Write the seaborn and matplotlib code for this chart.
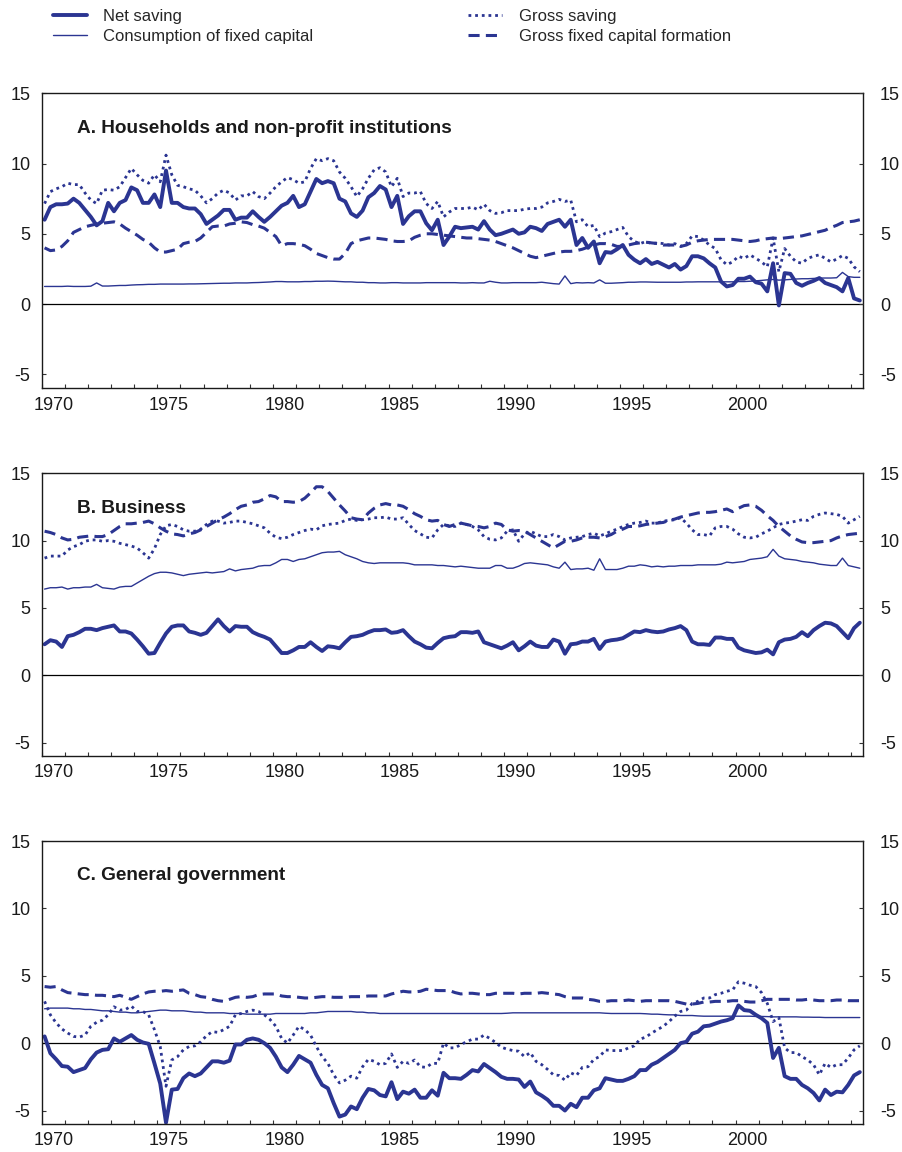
import numpy as np
import pandas as pd
import matplotlib
matplotlib.use("Agg")
import matplotlib.pyplot as plt
import seaborn as sns

# ---------------- data (quarterly, 1970Q1 - 2005Q2, % ) ----------------
quarters = pd.period_range("1970Q1", "2005Q2", freq="Q")

a_net = [6.0,6.9,7.1,7.1,7.15,7.5,7.2,6.7,6.2,5.6,
         5.9,7.2,6.6,7.2,7.4,8.3,8.1,7.2,7.2,7.8,
         6.9,9.5,7.2,7.2,6.9,6.8,6.8,6.4,5.7,6.0,
         6.3,6.7,6.7,6.0,6.15,6.15,6.6,6.2,5.85,6.2,
         6.6,7.0,7.2,7.7,6.9,7.1,8.0,8.9,8.6,8.75,
         8.6,7.5,7.3,6.45,6.2,6.65,7.6,7.9,8.4,8.15,
         6.9,7.7,5.7,6.25,6.6,6.6,5.75,5.25,6.0,4.2,
         4.8,5.5,5.4,5.45,5.5,5.3,5.9,5.3,4.9,5.0,
         5.15,5.3,5.0,5.1,5.5,5.4,5.2,5.7,5.85,6.0,
         5.5,6.0,4.2,4.7,4.0,4.45,2.9,3.7,3.65,3.9,
         4.2,3.5,3.15,2.9,3.2,2.85,3.0,2.8,2.6,2.85,
         2.45,2.7,3.4,3.4,3.25,2.9,2.6,1.6,1.25,1.35,
         1.8,1.8,1.95,1.55,1.45,0.9,2.9,-0.1,2.2,2.15,
         1.5,1.3,1.5,1.65,1.85,1.5,1.35,1.2,0.9,1.85,
         0.4,0.25]
a_cfc = [1.25,1.25,1.25,1.25,1.27,1.25,1.25,1.25,1.27,1.5,
         1.28,1.28,1.3,1.32,1.32,1.35,1.37,1.38,1.4,1.4,
         1.42,1.42,1.42,1.42,1.42,1.43,1.43,1.44,1.45,1.46,
         1.47,1.48,1.48,1.5,1.5,1.5,1.52,1.53,1.55,1.57,
         1.6,1.6,1.58,1.58,1.58,1.6,1.6,1.62,1.62,1.63,
         1.62,1.6,1.58,1.58,1.55,1.55,1.52,1.52,1.5,1.5,
         1.52,1.52,1.5,1.5,1.5,1.5,1.52,1.52,1.52,1.52,
         1.52,1.52,1.5,1.5,1.52,1.5,1.5,1.62,1.55,1.5,
         1.5,1.52,1.52,1.52,1.52,1.52,1.55,1.5,1.45,1.42,
         2.0,1.45,1.52,1.5,1.52,1.5,1.72,1.48,1.48,1.5,
         1.52,1.55,1.55,1.57,1.57,1.56,1.55,1.55,1.55,1.55,
         1.55,1.57,1.57,1.58,1.58,1.58,1.58,1.58,1.58,1.58,
         1.6,1.6,1.62,1.65,1.68,1.72,1.75,1.7,1.72,1.75,
         1.78,1.8,1.8,1.82,1.85,1.85,1.85,1.87,2.25,1.95,
         1.9,1.9]
a_gross = [7.15,8.0,8.2,8.35,8.6,8.5,8.5,7.9,7.4,7.15,
           8.1,8.15,8.1,8.35,9.0,9.65,9.2,8.8,8.6,9.2,
           8.7,10.6,9.2,8.45,8.35,8.2,8.1,7.7,7.2,7.5,
           7.9,8.1,7.9,7.4,7.7,7.7,8.0,7.65,7.5,7.9,
           8.35,8.7,9.0,8.85,8.6,8.7,9.65,10.35,10.2,10.35,
           10.2,9.4,8.95,8.35,7.65,8.2,8.95,9.55,9.7,9.4,
           8.35,8.95,7.65,7.9,7.9,8.0,7.15,6.8,7.3,6.2,
           6.55,6.8,6.8,6.8,6.9,6.7,7.1,6.65,6.45,6.5,
           6.65,6.65,6.65,6.75,6.8,6.8,6.9,7.2,7.3,7.45,
           7.3,7.4,5.85,6.0,5.5,5.6,4.8,5.05,5.15,5.3,
           5.45,4.8,4.45,4.3,4.45,4.3,4.35,4.3,4.2,4.3,
           4.1,4.3,4.85,4.8,4.55,4.2,3.95,3.15,2.8,3.0,
           3.4,3.25,3.5,3.25,3.0,2.65,4.7,2.3,3.95,3.4,
           3.0,2.9,3.25,3.4,3.5,3.25,3.0,3.2,3.45,3.25,
           2.65,2.3]
a_gfcf = [4.0,3.8,3.85,4.1,4.5,5.1,5.3,5.5,5.6,5.7,
          5.75,5.8,5.85,5.7,5.4,5.15,4.9,4.6,4.4,4.0,
          3.7,3.7,3.8,3.9,4.3,4.4,4.45,4.7,5.1,5.5,
          5.55,5.55,5.7,5.75,5.85,5.8,5.65,5.55,5.4,5.1,
          4.8,4.15,4.3,4.3,4.25,4.15,3.9,3.6,3.45,3.3,
          3.2,3.2,3.6,4.3,4.5,4.6,4.7,4.7,4.65,4.6,
          4.5,4.45,4.45,4.5,4.75,4.9,5.0,5.0,4.95,4.9,
          4.85,4.8,4.75,4.7,4.7,4.65,4.6,4.55,4.45,4.3,
          4.15,4.0,3.8,3.6,3.4,3.3,3.4,3.5,3.6,3.7,
          3.75,3.75,3.8,3.9,4.05,4.2,4.3,4.3,4.25,4.1,
          4.1,4.2,4.3,4.35,4.4,4.35,4.3,4.2,4.2,4.2,
          4.1,4.2,4.4,4.5,4.55,4.6,4.6,4.6,4.6,4.6,
          4.55,4.5,4.45,4.5,4.6,4.65,4.7,4.65,4.7,4.75,
          4.8,4.85,4.95,5.05,5.15,5.25,5.45,5.6,5.8,5.85,
          5.9,6.0]

b_net = [2.3,2.6,2.5,2.1,2.9,3.0,3.2,3.45,3.45,3.35,
         3.5,3.6,3.7,3.25,3.25,3.1,2.65,2.15,1.6,1.65,
         2.4,3.1,3.6,3.7,3.7,3.25,3.15,3.0,3.15,3.65,
         4.15,3.65,3.25,3.65,3.6,3.6,3.2,3.0,2.85,2.65,
         2.15,1.65,1.65,1.85,2.1,2.1,2.45,2.1,1.8,2.15,
         2.1,2.0,2.45,2.85,2.9,3.0,3.2,3.35,3.35,3.4,
         3.15,3.2,3.35,2.9,2.5,2.3,2.05,2.0,2.4,2.75,
         2.85,2.9,3.2,3.2,3.15,3.25,2.45,2.3,2.15,2.0,
         2.2,2.45,1.85,2.15,2.5,2.2,2.1,2.1,2.65,2.5,
         1.6,2.3,2.35,2.5,2.5,2.7,1.95,2.5,2.6,2.65,
         2.75,3.0,3.25,3.2,3.35,3.25,3.2,3.25,3.4,3.5,
         3.65,3.35,2.5,2.3,2.3,2.25,2.8,2.8,2.7,2.7,
         2.05,1.85,1.75,1.65,1.7,1.9,1.55,2.45,2.65,2.7,
         2.85,3.2,2.9,3.35,3.65,3.9,3.85,3.65,3.2,2.75,
         3.5,3.9]
b_cfc = [6.4,6.5,6.5,6.55,6.4,6.5,6.5,6.55,6.55,6.75,
         6.5,6.45,6.4,6.55,6.6,6.6,6.85,7.1,7.35,7.55,
         7.65,7.65,7.6,7.5,7.4,7.5,7.55,7.6,7.65,7.6,
         7.65,7.7,7.9,7.75,7.85,7.9,7.95,8.1,8.15,8.15,
         8.35,8.6,8.6,8.45,8.6,8.65,8.8,8.95,9.1,9.15,
         9.15,9.2,8.95,8.8,8.65,8.45,8.35,8.3,8.35,8.35,
         8.35,8.35,8.35,8.3,8.2,8.2,8.2,8.2,8.15,8.15,
         8.1,8.05,8.1,8.05,8.0,7.95,7.95,7.95,8.15,8.15,
         7.95,7.95,8.1,8.3,8.35,8.3,8.25,8.2,8.05,7.95,
         8.4,7.85,7.9,7.9,7.95,7.8,8.65,7.85,7.85,7.85,
         7.95,8.1,8.1,8.2,8.15,8.05,8.1,8.05,8.1,8.1,
         8.15,8.15,8.15,8.2,8.2,8.2,8.2,8.25,8.4,8.35,
         8.4,8.45,8.6,8.65,8.7,8.8,9.35,8.85,8.65,8.6,
         8.55,8.45,8.4,8.35,8.25,8.2,8.15,8.15,8.7,8.15,
         8.05,7.95]
b_gross = [8.7,8.85,8.85,8.85,9.3,9.55,9.7,9.95,10.05,10.05,
           9.95,10.0,9.95,9.8,9.7,9.6,9.45,9.1,8.7,9.4,
           10.45,11.1,11.2,11.05,10.8,10.7,10.7,10.85,11.2,11.45,
           11.45,11.3,11.35,11.45,11.45,11.35,11.25,11.1,10.95,10.55,
           10.25,10.15,10.25,10.45,10.6,10.75,10.85,10.8,11.1,11.2,
           11.25,11.3,11.5,11.6,11.5,11.55,11.6,11.7,11.7,11.75,
           11.6,11.6,11.7,11.2,10.75,10.5,10.25,10.2,10.8,11.2,
           11.1,11.05,11.3,11.2,11.05,10.8,10.3,10.1,10.05,10.2,
           10.7,10.8,9.95,10.5,10.7,10.5,10.3,10.3,10.45,10.3,
           10.05,10.2,10.25,10.3,10.45,10.55,10.35,10.5,10.7,10.85,
           11.05,11.2,11.3,11.35,11.45,11.3,11.3,11.45,11.5,11.55,
           11.7,11.3,10.8,10.45,10.45,10.35,10.95,11.05,11.05,10.85,
           10.5,10.25,10.2,10.25,10.5,10.7,10.95,11.2,11.3,11.35,
           11.45,11.55,11.5,11.8,11.95,12.05,12.0,11.95,11.8,11.3,
           11.55,11.8]
b_gfcf = [10.7,10.6,10.45,10.2,10.05,10.1,10.25,10.3,10.35,10.3,
          10.3,10.45,10.75,11.05,11.25,11.25,11.3,11.35,11.45,11.25,
          10.95,10.7,10.5,10.45,10.35,10.5,10.6,10.8,11.05,11.3,
          11.55,11.75,12.0,12.3,12.55,12.65,12.85,12.9,13.1,13.35,
          13.25,12.9,12.9,12.85,12.9,13.15,13.55,14.0,14.0,13.65,
          13.15,12.65,12.2,11.7,11.6,11.55,12.05,12.4,12.65,12.75,
          12.65,12.65,12.55,12.3,12.0,11.8,11.55,11.45,11.5,11.2,
          11.05,11.2,11.3,11.2,11.1,11.05,10.95,11.05,11.3,11.2,
          10.8,10.7,10.75,10.7,10.45,10.2,9.95,9.7,9.45,9.7,
          9.95,9.95,10.05,10.2,10.25,10.25,10.2,10.3,10.45,10.7,
          10.85,11.05,11.05,11.1,11.2,11.25,11.3,11.35,11.5,11.6,
          11.75,11.85,11.95,12.05,12.1,12.1,12.15,12.25,12.35,12.15,
          12.4,12.6,12.65,12.55,12.25,11.85,11.5,11.05,10.7,10.35,
          10.1,9.9,9.85,9.85,9.9,9.95,10.0,10.2,10.35,10.45,
          10.5,10.55]

c_net = [0.5,-0.75,-1.2,-1.7,-1.75,-2.15,-2.0,-1.85,-1.2,-0.7,
         -0.5,-0.45,0.35,0.1,0.35,0.6,0.25,0.05,-0.05,-1.5,
         -3.0,-5.9,-3.45,-3.4,-2.6,-2.25,-2.45,-2.25,-1.8,-1.35,
         -1.35,-1.45,-1.3,-0.1,-0.1,0.25,0.35,0.25,0.0,-0.35,
         -1.0,-1.8,-2.15,-1.6,-0.95,-1.2,-1.45,-2.35,-3.1,-3.35,
         -4.45,-5.45,-5.3,-4.7,-4.9,-4.05,-3.4,-3.5,-3.85,-3.95,
         -2.9,-4.15,-3.6,-3.75,-3.45,-4.05,-4.05,-3.5,-3.9,-2.2,
         -2.6,-2.6,-2.65,-2.35,-2.0,-2.1,-1.55,-1.85,-2.15,-2.5,
         -2.65,-2.65,-2.7,-3.25,-2.85,-3.65,-3.9,-4.2,-4.65,-4.65,
         -5.0,-4.5,-4.75,-4.05,-4.05,-3.5,-3.35,-2.6,-2.7,-2.8,
         -2.8,-2.65,-2.45,-2.0,-2.0,-1.6,-1.4,-1.1,-0.8,-0.5,
         0.0,0.1,0.7,0.85,1.25,1.3,1.45,1.6,1.7,1.85,
         2.8,2.45,2.4,2.1,1.85,1.5,-1.1,-0.35,-2.45,-2.65,
         -2.65,-3.1,-3.35,-3.7,-4.25,-3.45,-3.85,-3.6,-3.65,-3.1,
         -2.4,-2.15]
c_cfc = [2.55,2.6,2.6,2.6,2.6,2.55,2.55,2.5,2.5,2.45,
         2.4,2.4,2.35,2.3,2.3,2.25,2.25,2.3,2.35,2.4,
         2.45,2.45,2.4,2.4,2.4,2.35,2.3,2.3,2.25,2.25,
         2.25,2.25,2.2,2.2,2.2,2.15,2.15,2.15,2.15,2.15,
         2.2,2.2,2.2,2.2,2.2,2.2,2.25,2.25,2.3,2.35,
         2.35,2.35,2.35,2.35,2.3,2.3,2.25,2.25,2.2,2.2,
         2.2,2.2,2.2,2.2,2.2,2.2,2.2,2.2,2.2,2.2,
         2.2,2.2,2.2,2.2,2.2,2.2,2.2,2.2,2.2,2.2,
         2.22,2.25,2.25,2.25,2.25,2.25,2.25,2.25,2.25,2.25,
         2.25,2.25,2.25,2.25,2.25,2.25,2.25,2.22,2.2,2.2,
         2.2,2.2,2.2,2.2,2.18,2.15,2.15,2.12,2.1,2.1,
         2.05,2.05,2.05,2.02,2.0,2.0,2.0,2.0,2.0,2.0,
         2.0,2.0,2.0,1.98,1.98,1.97,1.95,1.95,1.95,1.95,
         1.95,1.93,1.93,1.92,1.92,1.9,1.9,1.9,1.9,1.9,
         1.9,1.9]
c_gross = [3.1,2.1,1.5,1.05,0.75,0.5,0.45,0.6,1.25,1.55,
           1.7,2.1,2.7,2.45,2.5,2.75,2.35,2.35,2.1,1.0,
           -0.25,-3.2,-1.25,-1.0,-0.5,-0.25,-0.2,0.1,0.55,0.85,
           0.8,1.0,1.25,2.1,2.2,2.35,2.45,2.35,2.1,1.75,
           1.25,0.35,0.0,0.6,1.25,1.0,0.6,-0.25,-1.0,-1.5,
           -2.35,-2.95,-2.75,-2.45,-2.6,-1.75,-1.2,-1.35,-1.6,-1.5,
           -0.8,-1.8,-1.35,-1.5,-1.25,-1.75,-1.8,-1.5,-1.5,0.0,
           -0.35,-0.35,-0.1,0.1,0.3,0.3,0.6,0.35,0.05,-0.3,
           -0.45,-0.55,-0.6,-1.0,-0.7,-1.35,-1.6,-1.95,-2.35,-2.4,
           -2.75,-2.2,-2.4,-1.8,-1.75,-1.2,-1.0,-0.5,-0.55,-0.55,
           -0.55,-0.35,-0.2,0.3,0.45,0.75,1.0,1.25,1.6,2.0,
           2.35,2.45,2.95,3.1,3.35,3.35,3.6,3.7,3.85,3.95,
           4.55,4.45,4.3,4.2,3.75,2.95,1.6,1.9,-0.35,-0.7,
           -0.7,-1.0,-1.25,-1.6,-2.35,-1.5,-1.8,-1.6,-1.6,-1.1,
           -0.5,-0.2]
c_gfcf = [4.2,4.15,4.2,3.95,3.75,3.7,3.65,3.6,3.6,3.55,
          3.55,3.5,3.45,3.55,3.4,3.25,3.45,3.65,3.8,3.85,
          3.85,3.9,3.85,3.9,3.95,3.7,3.6,3.45,3.4,3.25,
          3.15,3.1,3.25,3.4,3.45,3.4,3.45,3.6,3.65,3.65,
          3.65,3.5,3.45,3.45,3.4,3.35,3.35,3.4,3.45,3.45,
          3.4,3.4,3.4,3.45,3.45,3.45,3.5,3.5,3.5,3.5,
          3.65,3.75,3.85,3.8,3.8,3.85,4.0,3.95,3.9,3.9,
          3.9,3.75,3.65,3.7,3.7,3.65,3.6,3.6,3.7,3.7,
          3.7,3.7,3.65,3.7,3.7,3.7,3.75,3.7,3.65,3.6,
          3.45,3.35,3.35,3.35,3.25,3.2,3.1,3.1,3.15,3.15,
          3.15,3.2,3.15,3.1,3.15,3.15,3.15,3.15,3.15,3.1,
          3.0,2.9,2.9,2.95,3.05,3.05,3.1,3.1,3.1,3.15,
          3.15,3.1,3.05,3.05,3.15,3.25,3.25,3.25,3.25,3.25,
          3.2,3.2,3.25,3.2,3.15,3.15,3.15,3.2,3.2,3.15,
          3.15,3.15]

series_names = ["Net saving", "Consumption of fixed capital",
                "Gross saving", "Gross fixed capital formation"]
panel_titles = ["A. Households and non-profit institutions",
                "B. Business", "C. General government"]
panels = [
    {"Net saving": a_net, "Consumption of fixed capital": a_cfc,
     "Gross saving": a_gross, "Gross fixed capital formation": a_gfcf},
    {"Net saving": b_net, "Consumption of fixed capital": b_cfc,
     "Gross saving": b_gross, "Gross fixed capital formation": b_gfcf},
    {"Net saving": c_net, "Consumption of fixed capital": c_cfc,
     "Gross saving": c_gross, "Gross fixed capital formation": c_gfcf},
]
y_ticks = [-5, 0, 5, 10, 15]
x_labels = ["1970", "1975", "1980", "1985", "1990", "1995", "2000"]

# ---------------- style ----------------
sns.set_style("white")
plt.rcParams["font.family"] = ["Liberation Sans", "DejaVu Sans"]
plt.rcParams["axes.unicode_minus"] = False
plt.rcParams["lines.scale_dashes"] = False

NAVY = "#2B3592"
styles = {
    "Consumption of fixed capital": dict(lw=1.0, ls="-"),
    "Gross fixed capital formation": dict(lw=2.2, ls=(0, (8, 4.5))),
    "Gross saving": dict(lw=2.0, ls=(0, (2, 2.8))),
    "Net saving": dict(lw=2.8, ls="-"),
}
draw_order = ["Consumption of fixed capital", "Gross fixed capital formation",
              "Gross saving", "Net saving"]

W, H = 903, 1152
fig = plt.figure(figsize=(W / 100, H / 100), dpi=100)
boxes = [(93.3, 388.3), (473.3, 756.0), (841.0, 1124.0)]
left_px, right_px = 41.7, 862.7

x = quarters.year + (quarters.quarter - 1) / 4 + 0.125

handles = {}
for k, (top, bot) in enumerate(boxes):
    ax = fig.add_axes([left_px / W, 1 - bot / H, (right_px - left_px) / W, (bot - top) / H])
    df = pd.DataFrame(panels[k])
    df["x"] = np.asarray(x)
    for name in draw_order:
        st = styles[name]
        sns.lineplot(data=df, x="x", y=name, ax=ax, color=NAVY, lw=st["lw"],
                     linestyle=st["ls"], label=name, legend=False,
                     estimator=None, sort=False)
        handles[name] = ax.lines[-1]
    ax.axhline(0, color="black", lw=0.9, zorder=1)
    ax.set_xlim(1970, 2005.5)
    ax.set_ylim(-6, 15)
    ax.set_xlabel("")
    ax.set_ylabel("")
    # x ticks: year boundaries, labels centred in the year
    ax.set_xticks(np.arange(1970, 2006))
    ax.set_xticks([int(s) + 0.5 for s in x_labels], minor=True)
    ax.set_xticklabels([], minor=False)
    ax.set_xticklabels(x_labels, minor=True)
    ax.tick_params(axis="x", which="major", direction="in", length=3.0, width=0.8,
                   color="#333333", bottom=True, top=False, labelbottom=False)
    ax.tick_params(axis="x", which="minor", length=0, labelsize=13, pad=6,
                   labelcolor="#1a1a1a")
    ax.set_yticks(y_ticks)
    ax.tick_params(axis="y", direction="in", length=3.2, width=0.8, color="#333333",
                   left=True, right=False, labelsize=13, pad=8, labelcolor="#1a1a1a")
    for sp in ax.spines.values():
        sp.set_visible(True)
        sp.set_color("#1a1a1a")
        sp.set_linewidth(1.0)
    ax2 = ax.twinx()
    ax2.set_ylim(-6, 15)
    ax2.set_yticks(y_ticks)
    ax2.tick_params(axis="y", direction="in", length=3.2, width=0.8, color="#333333",
                    right=True, labelsize=13, pad=12.5, labelcolor="#1a1a1a")
    for sp in ax2.spines.values():
        sp.set_visible(False)
    ax.text((77 - left_px) / (right_px - left_px), 1 - 35 / (bot - top),
            panel_titles[k], transform=ax.transAxes, fontsize=13.7,
            fontweight="bold", color="#1a1a1a", ha="left", va="center")

leg_order = ["Net saving", "Consumption of fixed capital",
             "Gross saving", "Gross fixed capital formation"]
fig.legend([handles[n] for n in leg_order], leg_order, ncol=2, frameon=False,
           loc="upper left", bbox_to_anchor=(52.7 / W, 1 - 9 / H),
           fontsize=12, handlelength=2.05, handletextpad=0.98,
           columnspacing=9.3, labelspacing=0.3, borderpad=0, borderaxespad=0)

fig.savefig("out.png", dpi=100, facecolor="white")
